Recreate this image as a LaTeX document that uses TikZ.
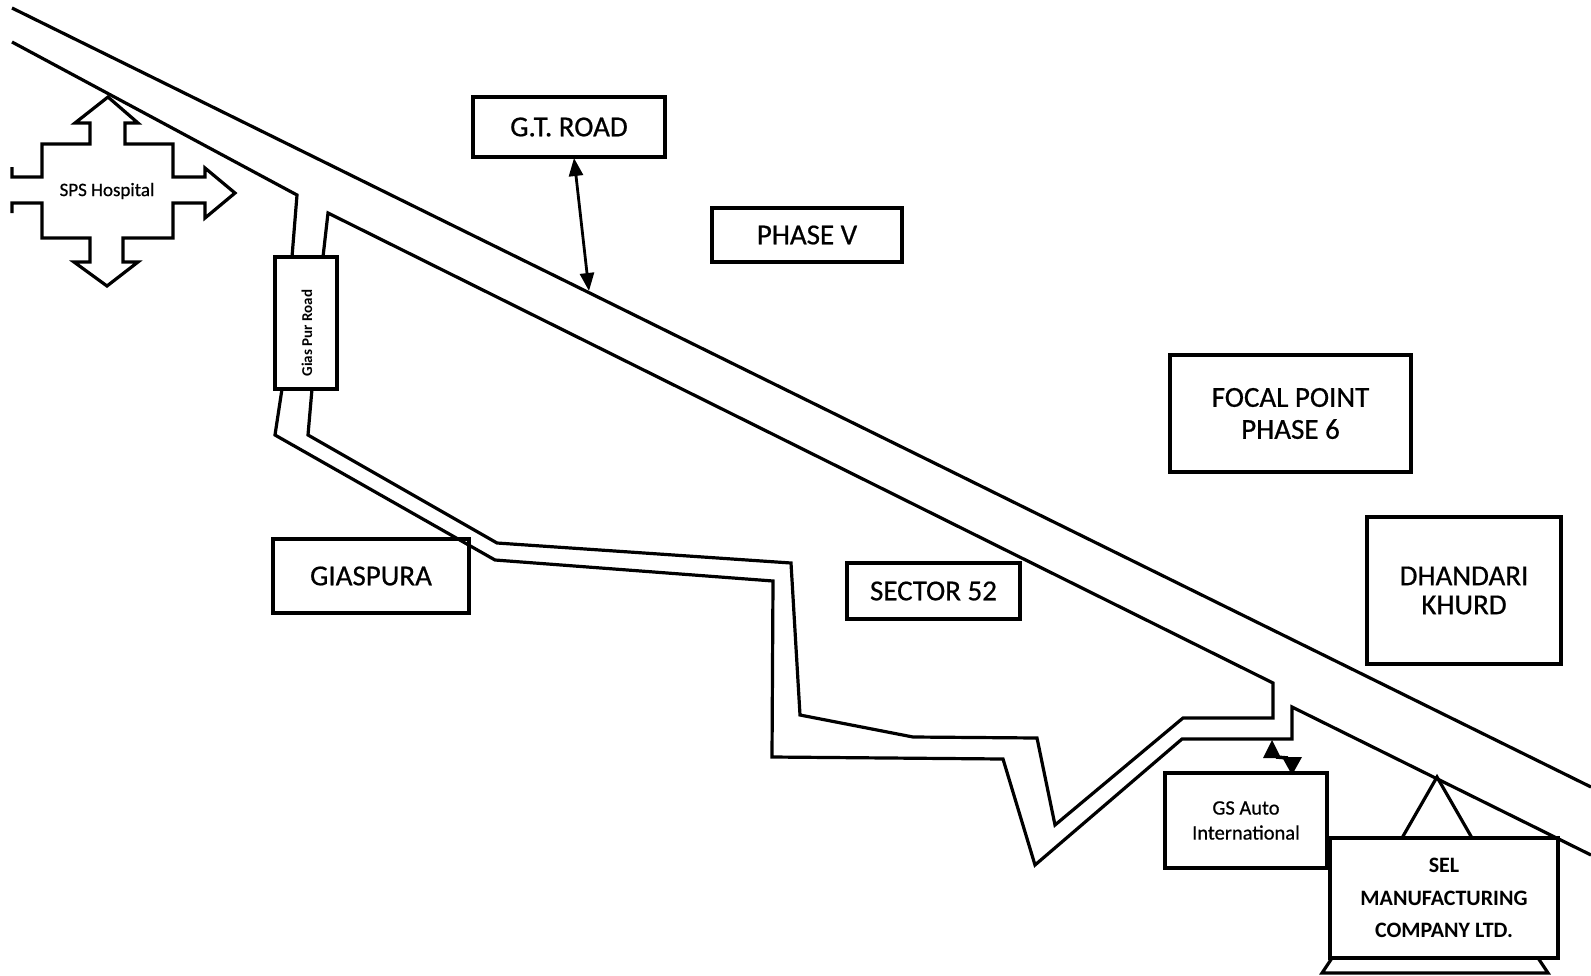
\documentclass[tikz,border=0pt]{standalone}
\usepackage{fontspec}
\setmainfont{Carlito}
\newfontfamily\lab{Carlito}[FakeBold=0.6]
\usetikzlibrary{arrows.meta}
\begin{document}
\begin{tikzpicture}[x=1pt,y=-1pt,line join=miter,
  road/.style={line width=3.2pt},
  box/.style={draw,line width=3.3pt,rectangle,inner sep=0pt,align=center},
  big/.style={font=\lab\fontsize{29}{32}\selectfont}]
\useasboundingbox (0,0) rectangle (1591,975);
% G.T. road
\draw[road] (12,8) -- (1591,787);
\draw[road] (292,257) -- (297,195) -- (12,42);
% Gias Pur road box
\node[box,minimum width=62pt,minimum height=132pt] (gpbox) at (306,323) {};
\node[rotate=90,inner sep=0pt,font=\bfseries\fontsize{15}{18}\selectfont] (gptext) at (307,333) {Gias Pur Road};
% inner block (Sector 52 side)
\draw[road] (323,257) -- (328,213) -- (1273,683) -- (1273,718) -- (1183,718) -- (1055,825) -- (1037,738) -- (913,737) -- (800,715) -- (791,563) -- (497,543) -- (308,435) -- (312,389);
% outer road line
\draw[road] (282,389) -- (275,435) -- (495,560) -- (773,581) -- (772,757) -- (1003,759) -- (1035,865) -- (1182,739) -- (1292,739) -- (1292,707) -- (1591,855);
% SPS hospital arrow
\draw[road] (12,167) -- (12,177) -- (42,177) -- (42,144) -- (90,144) -- (90,123) -- (75,123) -- (108,97) -- (138,123) -- (125,123) -- (125,144) -- (173,144) -- (173,177) -- (205,177) -- (205,168) -- (235,193) -- (205,218) -- (205,203) -- (173,203) -- (173,238) -- (123,238) -- (123,262) -- (138,262) -- (107,286) -- (74,262) -- (90,262) -- (90,238) -- (42,238) -- (42,203) -- (12,203) -- (12,213);
\node[inner sep=0pt,font=\lab\fontsize{19}{22}\selectfont] (sps) at (107,191) {SPS Hospital};
% boxes
\node[box,big,minimum width=192pt,minimum height=60pt] (gt) at (569,127) {G.T. ROAD};
\node[box,big,minimum width=190pt,minimum height=54pt] (ph5) at (807,235) {PHASE V};
\node[box,big,minimum width=241pt,minimum height=117pt] (focal) at (1290.5,413.5) {FOCAL POINT\\PHASE 6};
\node[box,font=\lab\fontsize{29}{29}\selectfont,minimum width=194pt,minimum height=147pt] (dh) at (1464,590.5) {DHANDARI\\KHURD};
\node[box,big,minimum width=173pt,minimum height=56pt] (sec) at (933.5,591) {SECTOR 52};
\node[box,big,minimum width=196pt,minimum height=74pt] (gia) at (371,576) {GIASPURA};
\node[box,font=\lab\fontsize{20.5}{25}\selectfont,minimum width=162pt,minimum height=95pt] (gs) at (1246,820.5) {GS Auto\\International};
\node[box,font=\bfseries\fontsize{22}{32.5}\selectfont,minimum width=228pt,minimum height=120pt] (sel) at (1444,898) {SEL\\MANUFACTURING\\COMPANY LTD.};
% G.T. road arrow
\coordinate (gttop) at (574,158);
\coordinate (gtroad) at (589,291);
\draw[line width=2.8pt,{Triangle[length=18pt,width=14pt]}-{Triangle[length=18pt,width=14pt]}] (gttop) -- (gtroad);
% GS Auto lightning arrow
\coordinate (gsroad) at (1272,740);
\coordinate (gstop) at (1292,775);
\fill (gsroad) -- (1263,758) -- (1281,758) -- cycle;
\fill (gstop) -- (1282,757) -- (1302,757) -- cycle;
\draw[line width=3.5pt] (1276,757) -- (1288,758);
% SEL stand
\coordinate (apex) at (1437,777);
\draw[road] (1402,838) -- (apex) -- (1472,838);
\draw[road] (1332,958) -- (1322,973) -- (1548,973) -- (1538,958);
\end{tikzpicture}
\end{document}
